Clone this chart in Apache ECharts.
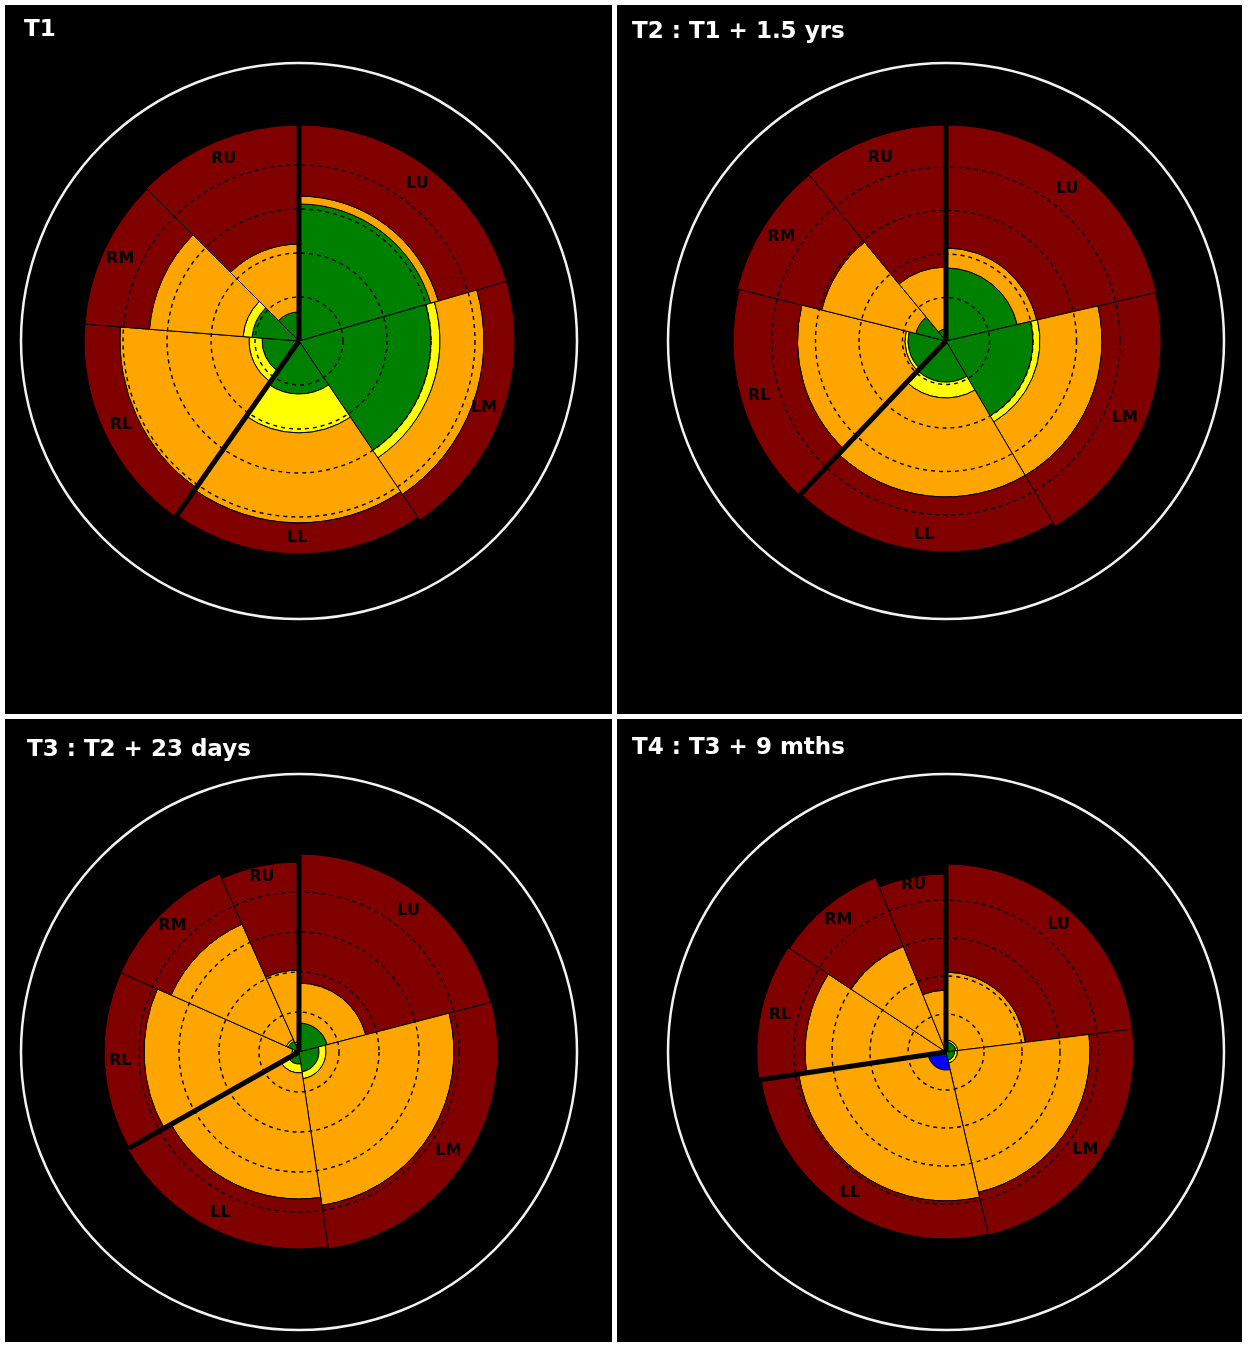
<!DOCTYPE html>
<html>
<head>
<meta charset="utf-8">
<title>Lung regions T1-T4</title>
<script src="https://cdn.jsdelivr.net/npm/echarts@6.0.0/dist/echarts.min.js"></script>
<style>
  html, body { margin: 0; padding: 0; background: #fff; }
  #chart { width: 1248px; height: 1345px; }
</style>
</head>
<body>
<div id="chart"></div>
<script>
// lung regions, clockwise from 12 o'clock
var regions = ['LU', 'LM', 'LL', 'RL', 'RM', 'RU'];
var panelTitles = ['T1', 'T2 : T1 + 1.5 yrs', 'T3 : T2 + 23 days', 'T4 : T3 + 9 mths'];
// value at the white outer circle (dashed rings every 20)
var scaleMax = [126.4, 127.8, 139, 146.3];

// region boundaries, degrees clockwise from 12 o'clock
var t1Angles = [0, 74, 146, 215, 274.5, 315, 360];
var t2Angles = [0, 77, 149.5, 223.5, 284, 320.5, 360];
var t3Angles = [0, 75.5, 171.5, 240.5, 294, 336, 360];
var t4Angles = [0, 83, 167, 261.5, 303.5, 338, 360];

// outer edge of each band (LU, LM, LL, RL, RM, RU)
var t1Blue   = [0, 0, 0, 0, 0, 0];
var t1Green  = [62.3, 60, 24.1, 16.8, 21.4, 13.2];
var t1Yellow = [62.3, 64.1, 41.8, 22.7, 25.5, 13.2];
var t1Orange = [65.9, 84.1, 82.7, 81.4, 68.2, 44.1];
var t1Red    = [98.2, 98.2, 96.8, 97.7, 97.7, 98.2];

var t2Blue   = [0, 0, 0, 0, 0, 0];
var t2Green  = [33.6, 40, 18.9, 17.5, 14.3, 5.5];
var t2Yellow = [33.6, 43.2, 26.2, 18.9, 14.3, 5.5];
var t2Orange = [42.8, 71.7, 71.7, 68.3, 58.9, 34];
var t2Red    = [99.3, 98.9, 97, 97.9, 98.9, 99.3];

var t3Blue   = [0, 0, 0, 0, 0, 0];
var t3Green  = [14.5, 10, 6, 2.5, 6, 4];
var t3Yellow = [14.5, 13.5, 10.5, 3.5, 7, 5];
var t3Orange = [34.5, 77.5, 73.5, 77.5, 70, 41];
var t3Red    = [99, 99.5, 98.5, 97.5, 97.5, 95];

var t4Blue   = [0, 0, 9.5, 0, 0, 0];
var t4Green  = [5.3, 4.5, 9.5, 0, 0, 0];
var t4Yellow = [6.3, 6, 9.5, 0, 0, 0];
var t4Orange = [42.1, 75.8, 78.4, 74.2, 60, 32.6];
var t4Red    = [98.9, 98.9, 98.4, 99.6, 98.9, 93.7];

var angleSets = [t1Angles, t2Angles, t3Angles, t4Angles];
var blueSets = [t1Blue, t2Blue, t3Blue, t4Blue];
var greenSets = [t1Green, t2Green, t3Green, t4Green];
var yellowSets = [t1Yellow, t2Yellow, t3Yellow, t4Yellow];
var orangeSets = [t1Orange, t2Orange, t3Orange, t4Orange];
var redSets = [t1Red, t2Red, t3Red, t4Red];

var bandColors = ['#0000ff', '#008000', '#ffff00', '#ffa500', '#800000'];
var labelRadius = 89.5;

// panel placement
var centers = [[299, 341], [946, 341], [299, 1052], [946, 1052]];
var titlePos = [[24, 19], [632, 21], [27, 739], [632, 737]];

function buildData(p) {
    var out = [];
    for (var i = 0; i < regions.length; i++) {
        out.push({
            name: regions[i],
            value: [angleSets[p][i], angleSets[p][i + 1], blueSets[p][i], greenSets[p][i],
                yellowSets[p][i], orangeSets[p][i], redSets[p][i]]
        });
    }
    return out;
}

function renderLung(params, api) {
    var cs = params.coordSys;
    var cx = cs.cx, cy = cs.cy;
    var a0 = api.value(0), a1 = api.value(1);
    var name = regions[params.dataIndex];
    function rPx(v) {
        var pt = api.coord([v, a0]);
        return Math.sqrt((pt[0] - cx) * (pt[0] - cx) + (pt[1] - cy) * (pt[1] - cy));
    }
    function angOf(a) {
        var pt = api.coord([50, a]);
        return Math.atan2(pt[1] - cy, pt[0] - cx);
    }
    var s = angOf(a0), e = angOf(a1);
    while (e <= s) { e += Math.PI * 2; }
    var children = [];
    var inner = 0;
    for (var k = 0; k < 5; k++) {
        var outer = api.value(2 + k);
        if (outer > inner) {
            children.push({
                type: 'sector',
                shape: { cx: cx, cy: cy, r0: rPx(inner), r: rPx(outer), startAngle: s, endAngle: e, clockwise: true },
                style: { fill: bandColors[k], stroke: '#000', lineWidth: 1 }
            });
            inner = outer;
        }
    }
    // thick line between left and right lung
    if (name === 'LU' || name === 'RL') {
        var tip = api.coord([api.value(6), a0]);
        children.push({
            type: 'line',
            z2: 20,
            shape: { x1: cx, y1: cy, x2: tip[0], y2: tip[1] },
            style: { stroke: '#000', lineWidth: 5 }
        });
    }
    var lp = api.coord([labelRadius, (a0 + a1) / 2]);
    children.push({
        type: 'text',
        z2: 30,
        x: lp[0],
        y: lp[1],
        style: {
            text: name,
            fill: '#000',
            font: 'bold 16px "DejaVu Sans"',
            align: 'center',
            verticalAlign: 'middle'
        }
    });
    return { type: 'group', children: children };
}

var chart = echarts.init(document.getElementById('chart'));

var polar = [], angleAxis = [], radiusAxis = [], series = [], title = [];
for (var p = 0; p < 4; p++) {
    polar.push({ center: centers[p], radius: 278 });
    angleAxis.push({
        polarIndex: p,
        type: 'value',
        min: 0,
        max: 360,
        startAngle: 90,
        clockwise: true,
        z: 6,
        axisLine: { show: true, lineStyle: { color: '#f2f2f2', width: 2.5 } },
        axisTick: { show: false },
        axisLabel: { show: false },
        splitLine: { show: false }
    });
    radiusAxis.push({
        polarIndex: p,
        type: 'value',
        min: 0,
        max: scaleMax[p],
        interval: 20,
        z: 5,
        axisLine: { show: false },
        axisTick: { show: false },
        axisLabel: { show: false },
        splitLine: { show: true, lineStyle: { color: '#000', type: [4, 4], width: 1.4 } }
    });
    series.push({
        type: 'custom',
        coordinateSystem: 'polar',
        polarIndex: p,
        silent: true,
        encode: { angle: [0, 1], radius: [2, 3, 4, 5, 6] },
        renderItem: renderLung,
        data: buildData(p)
    });
    title.push({
        text: panelTitles[p],
        left: titlePos[p][0],
        top: titlePos[p][1],
        padding: 0,
        textStyle: { color: '#fff', fontFamily: 'DejaVu Sans', fontWeight: 'bold', fontSize: 23 }
    });
}

chart.setOption({
    backgroundColor: '#ffffff',
    animation: false,
    graphic: [
        { type: 'rect', z: 0, shape: { x: 5, y: 5, width: 607, height: 709 }, style: { fill: '#000' } },
        { type: 'rect', z: 0, shape: { x: 617, y: 5, width: 625, height: 709 }, style: { fill: '#000' } },
        { type: 'rect', z: 0, shape: { x: 5, y: 719, width: 607, height: 623 }, style: { fill: '#000' } },
        { type: 'rect', z: 0, shape: { x: 617, y: 719, width: 625, height: 623 }, style: { fill: '#000' } }
    ],
    title: title,
    polar: polar,
    angleAxis: angleAxis,
    radiusAxis: radiusAxis,
    series: series
});
</script>
</body>
</html>
